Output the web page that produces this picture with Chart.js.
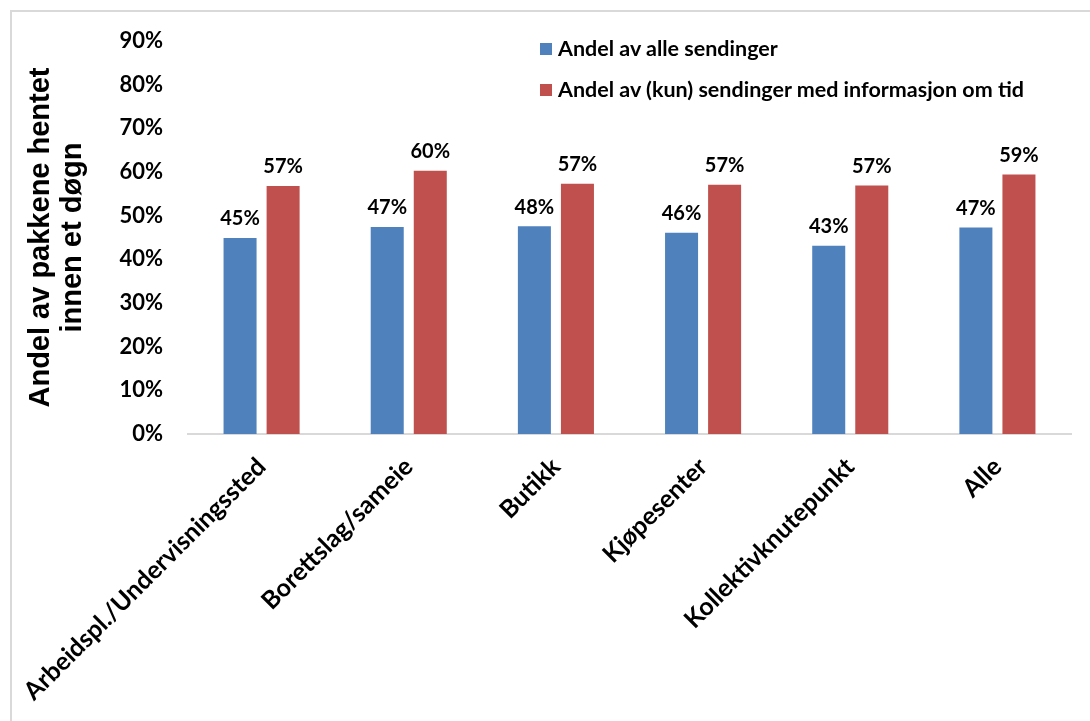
<!DOCTYPE html>
<html lang="no">
<head>
<meta charset="UTF-8">
<title>Andel av pakkene hentet innen et døgn</title>
<script src="https://cdn.jsdelivr.net/npm/chart.js"></script>
<style>
  html, body { margin: 0; padding: 0; background: #fff; }
  #wrap { position: relative; width: 1090px; height: 721px; }
  #frame { position: absolute; left: 10px; top: 10px; right: 0; bottom: 0;
           border-left: 2px solid #d9d9d9; border-top: 2px solid #d9d9d9; }
  #legend { position: absolute; left: 540px; top: 35px; font: bold 21.5px Lato, sans-serif; color: #000; }
  #legend div { height: 41px; display: flex; align-items: flex-start; }
  #legend span.box { width: 12px; height: 12px; margin: 8px 6px 0 0; display: inline-block; }
</style>
</head>
<body>
<div id="wrap">
  <div id="frame"></div>
  <canvas id="chart" width="1090" height="721"></canvas>
  <div id="legend"></div>
</div>
<script>
  // Kategorier og verdier (andel hentet innen et døgn, i prosent)
  const categories = ['Arbeidspl./Undervisningssted', 'Borettslag/sameie', 'Butikk',
                      'Kjøpesenter', 'Kollektivknutepunkt', 'Alle'];
  const allShipments = [44.9, 47.4, 47.6, 46.1, 43.1, 47.3];
  const timedShipments = [56.8, 60.3, 57.3, 57.1, 56.9, 59.4];
  const seriesNames = ['Andel av alle sendinger', 'Andel av (kun) sendinger med informasjon om tid'];
  const seriesColors = ['#4f81bd', '#c0504d'];

  const labelFont = 'bold 20px Lato, sans-serif';

  // prosenttall over hver søyle
  const valueLabels = {
    id: 'valueLabels',
    afterDatasetsDraw(chart) {
      const ctx = chart.ctx;
      ctx.save();
      ctx.font = labelFont;
      ctx.fillStyle = '#000';
      ctx.textAlign = 'center';
      ctx.textBaseline = 'bottom';
      chart.data.datasets.forEach((ds, i) => {
        chart.getDatasetMeta(i).data.forEach((bar, j) => {
          ctx.fillText(Math.round(ds.data[j]) + '%', bar.x, bar.y - 9);
        });
      });
      ctx.restore();
    }
  };

  const chart = new Chart(document.getElementById('chart'), {
    type: 'bar',
    data: {
      labels: categories,
      datasets: [
        { label: seriesNames[0], data: allShipments, backgroundColor: seriesColors[0] },
        { label: seriesNames[1], data: timedShipments, backgroundColor: seriesColors[1] }
      ]
    },
    options: {
      responsive: false,
      animation: false,
      layout: { padding: { left: 25, top: 41, right: 19, bottom: 0 } },
      datasets: { bar: { categoryPercentage: 0.585, barPercentage: 0.767 } },
      plugins: { legend: { display: false }, tooltip: { enabled: false } },
      scales: {
        x: {
          grid: { display: false },
          border: { color: '#d9d9d9', width: 2 },
          ticks: { color: '#000', font: { family: 'Lato', size: 25, weight: 'bold' },
                   minRotation: 45, maxRotation: 45, padding: 10 },
          afterFit(scale) { scale.height = 287; }
        },
        y: {
          min: 0, max: 90,
          grid: { display: false, drawTicks: false },
          border: { display: false },
          ticks: { stepSize: 10, color: '#000', padding: 25,
                   font: { family: 'Lato', size: 22, weight: 'bold' },
                   callback: v => v + '%' },
          title: {
            display: true,
            text: ['Andel av pakkene hentet', 'innen et døgn'],
            color: '#000',
            font: { family: 'Liberation Sans', size: 29, weight: 'bold', lineHeight: 1.1 },
            padding: 0
          },
          afterFit(scale) { scale.width = 163; }
        }
      }
    },
    plugins: [valueLabels]
  });

  // forklaring
  const legend = document.getElementById('legend');
  seriesNames.forEach((name, i) => {
    const row = document.createElement('div');
    row.innerHTML = '<span class="box" style="background:' + seriesColors[i] + '"></span>' + name;
    legend.appendChild(row);
  });
</script>
</body>
</html>
